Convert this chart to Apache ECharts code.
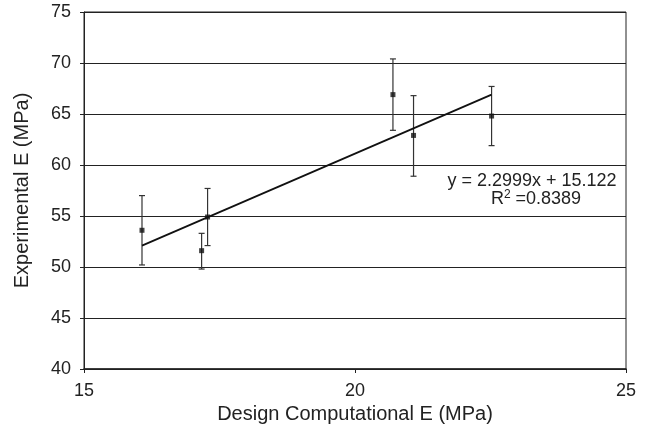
<!DOCTYPE html>
<html>
<head>
<meta charset="utf-8">
<script src="https://cdn.jsdelivr.net/npm/echarts@6/dist/echarts.min.js"></script>
<style>
html,body{margin:0;padding:0;background:#fff;}
#chart{width:652px;height:433px;}
</style>
</head>
<body>
<div id="chart"></div>
<script>
// Data
const designE = [16.07, 17.17, 17.28, 20.70, 21.08, 22.52];
const experimentalE = [53.6, 51.6, 54.9, 66.9, 62.9, 64.8];
const errLow = [50.2, 49.8, 52.1, 63.4, 58.9, 61.9];
const errHigh = [57.0, 53.3, 57.7, 70.4, 66.8, 67.7];
const trendX = [16.07, 22.52];
const trendY = [52.1, 66.9];
const xTicks = [15, 20, 25];
const yTicks = [40, 45, 50, 55, 60, 65, 70, 75];
const equationText = 'y = 2.2999x + 15.122';
const r2Text = '0.8389';

const font = 'Liberation Sans, Arial, sans-serif';
const chart = echarts.init(document.getElementById('chart'), null, {renderer: 'canvas'});

const points = designE.map((x, i) => [x, experimentalE[i]]);
const errData = designE.map((x, i) => [x, errLow[i], errHigh[i]]);
const trend = trendX.map((x, i) => [x, trendY[i]]);

chart.setOption({
  animation: false,
  backgroundColor: '#fff',
  grid: {left: 84, right: 26, top: 12, bottom: 64, show: true, borderColor: '#222', borderWidth: 1},
  xAxis: {
    type: 'value', min: xTicks[0], max: xTicks[xTicks.length - 1], interval: 5,
    name: 'Design Computational E (MPa)', nameLocation: 'middle', nameGap: 31,
    nameTextStyle: {fontFamily: font, fontSize: 20, color: '#222'},
    axisLine: {show: true, lineStyle: {color: '#222', width: 1.5}},
    axisTick: {show: true, length: 4, lineStyle: {color: '#222'}},
    axisLabel: {fontFamily: font, fontSize: 18, color: '#222', margin: 13},
    splitLine: {show: false}
  },
  yAxis: {
    type: 'value', min: yTicks[0], max: yTicks[yTicks.length - 1], interval: 5,
    name: 'Experimental E (MPa)', nameLocation: 'middle', nameGap: 52, nameRotate: 90,
    nameTextStyle: {fontFamily: font, fontSize: 20, color: '#222'},
    axisLine: {show: true, lineStyle: {color: '#222', width: 1}},
    axisTick: {show: true, length: 4, lineStyle: {color: '#222'}},
    axisLabel: {fontFamily: font, fontSize: 18, color: '#222', margin: 13},
    splitLine: {show: true, lineStyle: {color: '#222', width: 1}}
  },
  series: [
    {
      type: 'custom',
      data: errData,
      z: 3,
      renderItem: function (params, api) {
        const x = api.value(0);
        const lo = api.coord([x, api.value(1)]);
        const hi = api.coord([x, api.value(2)]);
        const w = 3;
        const st = {stroke: '#333', lineWidth: 1.2};
        return {
          type: 'group',
          children: [
            {type: 'line', shape: {x1: lo[0], y1: lo[1], x2: hi[0], y2: hi[1]}, style: st},
            {type: 'line', shape: {x1: lo[0] - w, y1: lo[1], x2: lo[0] + w, y2: lo[1]}, style: st},
            {type: 'line', shape: {x1: hi[0] - w, y1: hi[1], x2: hi[0] + w, y2: hi[1]}, style: st}
          ]
        };
      }
    },
    {
      type: 'line', data: trend, showSymbol: false, z: 4,
      lineStyle: {color: '#111', width: 1.8}
    },
    {
      type: 'scatter', data: points, symbol: 'rect', symbolSize: 5, z: 5,
      itemStyle: {color: '#111'}
    }
  ],
  graphic: [
    {
      type: 'text', x: 532, y: 172,
      style: {
        text: equationText,
        fontFamily: font, fontSize: 18, fill: '#222', align: 'center'
      }
    },
    {
      type: 'text', x: 536, y: 189,
      style: {
        text: '{r|R}{s|2}{r| =' + r2Text + '}',
        align: 'center',
        rich: {
          r: {fontFamily: font, fontSize: 18, fill: '#222'},
          s: {fontFamily: font, fontSize: 12, fill: '#222', verticalAlign: 'top', padding: [0,0,8,0]}
        }
      }
    }
  ]
});
</script>
</body>
</html>
